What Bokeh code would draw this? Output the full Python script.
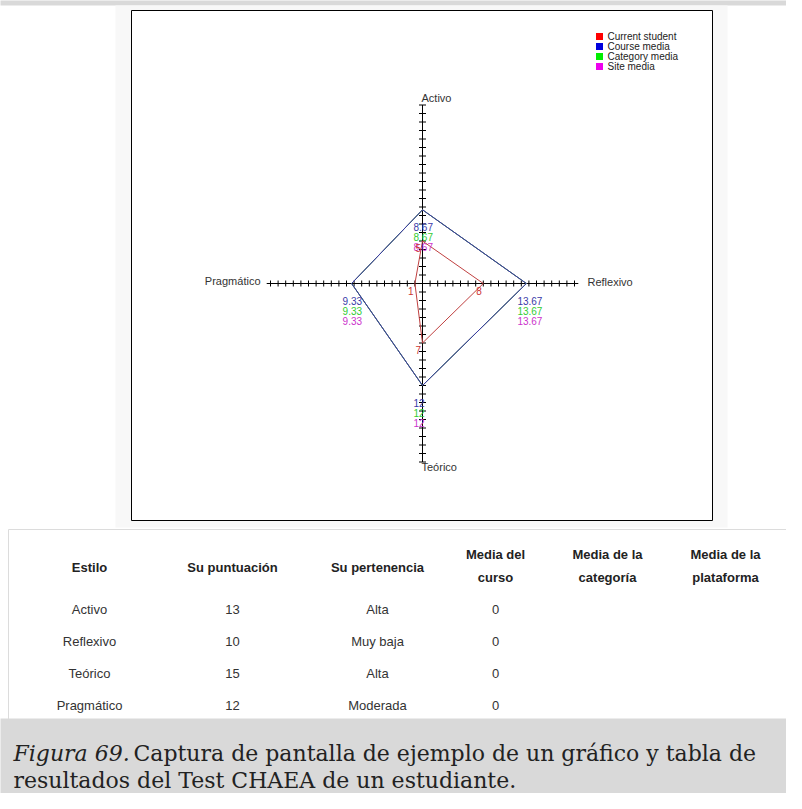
from bokeh.plotting import figure
from bokeh.models import Range1d
from bokeh.core.properties import value
from bokeh.embed import file_html
from bokeh.resources import INLINE

# ---------------- data ----------------
axis_names = ["Activo", "Reflexivo", "Teórico", "Pragmático"]   # up, right, down, left
student = [5, 8, 7, 1]
course_media = [8.67, 13.67, 12, 9.33]
category_media = [8.67, 13.67, 12, 9.33]
site_media = [8.67, 13.67, 12, 9.33]
series_names = ["Current student", "Course media", "Category media", "Site media"]

table_headers = [["Estilo"], ["Su puntuación"], ["Su pertenencia"],
                 ["Media del", "curso"], ["Media de la", "categoría"], ["Media de la", "plataforma"]]
table_estilo = ["Activo", "Reflexivo", "Teórico", "Pragmático"]
table_puntuacion = ["13", "10", "15", "12"]
table_pertenencia = ["Alta", "Muy baja", "Alta", "Moderada"]
table_media_curso = ["0", "0", "0", "0"]
table_media_categoria = ["", "", "", ""]
table_media_plataforma = ["", "", "", ""]

caption_italic = "Figura 69."
caption_line1 = "Captura de pantalla de ejemplo de un gráfico y tabla de"
caption_line2 = "resultados del Test CHAEA de un estudiante."

# ---------------- layout constants (pixels) ----------------
SX, SY = 7.6, 8.5          # pixels per unit horizontally / vertically
CX, CY = 422, 283          # radar centre
H_EXT, V_EXT = 20.5, 21    # axis half lengths in units
W, H = 786, 793


def X(px):
    return (px - CX) / SX


def Y(py):
    return (CY - py) / SY


SANS = value("Liberation Sans")
SERIF = value("DejaVu Serif")

p = figure(width=W, height=H, output_backend="svg", toolbar_location=None,
           x_range=Range1d(X(0), X(W)), y_range=Range1d(Y(H), Y(0)),
           x_axis_location=None, y_axis_location=None, min_border=0)
p.grid.visible = False
p.outline_line_color = None
p.background_fill_color = "white"
p.border_fill_color = "white"

# backgrounds
p.quad(left=X(-5), right=X(820), top=Y(-5), bottom=Y(5), fill_color="#d9d9d9", line_color=None)
p.quad(left=X(115), right=X(727), top=Y(5), bottom=Y(527), fill_color="#f8f8f8", line_color=None)
p.quad(left=X(131), right=X(712), top=Y(10), bottom=Y(520), fill_color="white",
       line_color="black", line_width=1)
p.quad(left=X(8), right=X(820), top=Y(529), bottom=Y(730), fill_color="white",
       line_color="#dcdcdc", line_width=1)
p.quad(left=X(-5), right=X(820), top=Y(718), bottom=Y(820), fill_color="#d9d9d9", line_color=None)

# axes with ticks
p.segment(x0=[-H_EXT, 0], y0=[0, -V_EXT], x1=[H_EXT, 0], y1=[0, V_EXT], line_color="black", line_width=1)
hx = list(range(-20, 21))
p.segment(x0=hx, x1=hx, y0=[-3 / SY] * len(hx), y1=[3 / SY] * len(hx), line_color="black", line_width=1)
vy = list(range(-21, 22))
p.segment(x0=[-3.5 / SX] * len(vy), x1=[3.5 / SX] * len(vy), y0=vy, y1=vy, line_color="black", line_width=1)

# axis names
name_kw = dict(text_font=SANS, text_font_size="11px", text_color="#333333", text_baseline="middle")
p.text(x=[X(421)], y=[Y(97)], text=[axis_names[0]], text_align="left", **name_kw)
p.text(x=[X(587)], y=[Y(281)], text=[axis_names[1]], text_align="left", **name_kw)
p.text(x=[X(421)], y=[Y(466)], text=[axis_names[2]], text_align="left", **name_kw)
p.text(x=[X(260)], y=[Y(280)], text=[axis_names[3]], text_align="right", **name_kw)


def poly(vals):
    xs = [0, vals[1], 0, -vals[3], 0]
    ys = [vals[0], 0, -vals[2], 0, vals[0]]
    return xs, ys


def fmt(v):
    return "%g" % v


series = [
    (site_media, "#dd22dd", "#cc33cc", 37),
    (category_media, "#22cc22", "#33cc33", 27),
    (course_media, "#3a3aa6", "#3a3aa8", 17),
    (student, "#c04040", "#cc3333", 7),
]
for vals, lc, tc, dy in series:
    xs, ys = poly(vals)
    p.line(xs, ys, line_color=lc, line_width=1)
for vals, lc, tc, dy in series:
    xs, ys = poly(vals)
    dx = -7 if dy == 7 else -9
    p.text(x=xs[:4], y=ys[:4], text=[fmt(v) for v in vals], text_font=SANS, text_font_size="10px",
           text_color=tc, text_align="left", text_baseline="middle", x_offset=dx, y_offset=dy)

# legend
leg_colors = ["#ff0000", "#0000dd", "#00ee00", "#ee00ee"]
leg_y = [36, 46, 56, 66]
p.scatter(x=[X(599)] * 4, y=[Y(v) for v in leg_y], marker="square", size=7,
          fill_color=leg_colors, line_color=None)
p.text(x=[X(607)] * 4, y=[Y(v) for v in leg_y], text=series_names, text_font=SANS,
       text_font_size="10px", text_color="#222222", text_align="left", text_baseline="middle")

# table
col_x = [89, 232, 377, 495, 607, 725]
for cx, hdr in zip(col_x, table_headers):
    ys_h = [567] if len(hdr) == 1 else [554, 577]
    p.text(x=[X(cx)] * len(hdr), y=[Y(v) for v in ys_h], text=hdr, text_font=SANS,
           text_font_size="13px", text_font_style="bold", text_color="#222222",
           text_align="center", text_baseline="middle")
row_y = [609, 641, 673, 705]
cols = [table_estilo, table_puntuacion, table_pertenencia, table_media_curso,
        table_media_categoria, table_media_plataforma]
for cx, col in zip(col_x, cols):
    p.text(x=[X(cx)] * len(col), y=[Y(v) for v in row_y], text=col, text_font=SANS,
           text_font_size="13px", text_color="#333333", text_align="center", text_baseline="middle")

# caption
cap_kw = dict(text_font=SERIF, text_font_size="22px", text_color="#222222",
              text_align="left", text_baseline="middle")
p.text(x=[X(13)], y=[Y(753)], text=[caption_italic], text_font_style="italic", **cap_kw)
p.text(x=[X(133)], y=[Y(753)], text=[caption_line1], **cap_kw)
p.text(x=[X(13)], y=[Y(780)], text=[caption_line2], **cap_kw)

open("out.html", "w").write(file_html(p, INLINE))
